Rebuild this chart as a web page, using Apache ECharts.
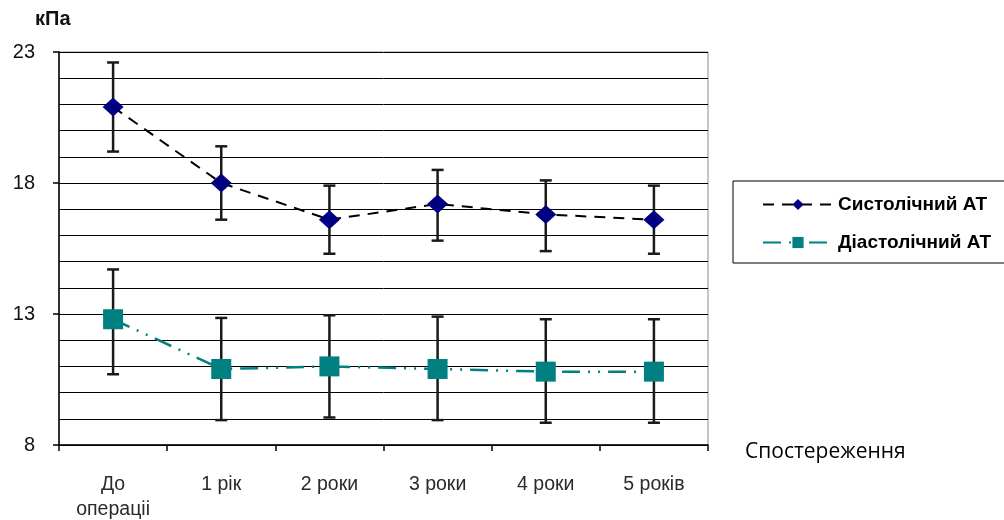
<!DOCTYPE html>
<html><head><meta charset="utf-8">
<script src="https://cdn.jsdelivr.net/npm/echarts@6/dist/echarts.min.js"></script>
<style>html,body{margin:0;padding:0;background:#fff}#c{width:1004px;height:520px}</style>
</head><body><div id="c"></div>
<script>
const categories = ['До\nопераціі', '1 рік', '2 роки', '3 роки', '4 роки', '5 років'];
const systolic = [20.9, 18.0, 16.6, 17.2, 16.8, 16.6];
const systolicLow = [19.2, 16.6, 15.3, 15.8, 15.4, 15.3];
const systolicHigh = [22.6, 19.4, 17.9, 18.5, 18.1, 17.9];
const diastolic = [12.8, 10.9, 11.0, 10.9, 10.8, 10.8];
const diastolicLow = [10.7, 8.95, 9.05, 8.95, 8.85, 8.85];
const diastolicHigh = [14.7, 12.85, 12.95, 12.9, 12.8, 12.8];
const yTicks = [8, 13, 18, 23];

const chart = echarts.init(document.getElementById('c'), null, {renderer: 'canvas'});
function errData(lo, hi) { return categories.map((c, i) => [i, lo[i], hi[i]]); }
function errRender(params, api) {
  const x = api.value(0);
  const lo = api.coord([x, api.value(1)]);
  const hi = api.coord([x, api.value(2)]);
  const w = 6;
  const st = {stroke: '#1a1a1a', lineWidth: 2.5};
  return {type: 'group', children: [
    {type: 'line', shape: {x1: lo[0], y1: lo[1], x2: hi[0], y2: hi[1]}, style: st},
    {type: 'line', shape: {x1: hi[0]-w, y1: hi[1], x2: hi[0]+w, y2: hi[1]}, style: st},
    {type: 'line', shape: {x1: lo[0]-w, y1: lo[1], x2: lo[0]+w, y2: lo[1]}, style: st}
  ]};
}
const font = 'Liberation Sans, Arial, sans-serif';
chart.setOption({
  animation: false,
  backgroundColor: '#fff',
  grid: {left: 59, right: 296, top: 52, bottom: 75, show: true, borderColor: '#888', borderWidth: 1,
    containLabel: false, outerBoundsMode: 'none'},
  xAxis: {
    type: 'category', data: categories, boundaryGap: true,
    axisLine: {lineStyle: {color: '#000', width: 1.5}},
    axisTick: {show: true, length: 6, lineStyle: {color: '#000', width: 1.5}},
    axisLabel: {color: '#2a2a2a', fontFamily: font, fontSize: 19.5, margin: 27, lineHeight: 25}
  },
  yAxis: [{
    type: 'value', min: 8, max: 23, interval: 1,
    axisLine: {show: true, lineStyle: {color: '#000', width: 1.5}},
    axisTick: {show: false},
    axisLabel: {show: false},
    splitLine: {lineStyle: {color: '#000', width: 1}}
  }, {
    type: 'value', min: 8, max: 23, interval: 5, position: 'left',
    axisLine: {show: false},
    axisTick: {show: true, inside: false, length: 6, lineStyle: {color: '#000', width: 1.5}},
    axisLabel: {color: '#111', fontFamily: font, fontSize: 20, margin: 24,
      formatter: v => yTicks.includes(v) ? String(v) : ''},
    splitLine: {show: false}
  }],
  legend: {
    orient: 'vertical', left: 757, top: 190, itemWidth: 70, itemHeight: 14, itemGap: 19,
    textStyle: {fontFamily: font, fontSize: 19, fontWeight: 'bold', color: '#000'},
    data: ['Систолічний АТ', 'Діастолічний АТ']
  },
  graphic: [
    {type: 'rect', shape: {x: 733, y: 181, width: 290, height: 82}, style: {fill: 'none', stroke: '#000', lineWidth: 1}},
    {type: 'text', left: 35, top: 9, style: {text: 'кПа', font: 'bold 20px ' + font, fill: '#111'}},
    {type: 'text', left: 745, top: 442, style: {text: 'Спостереження', font: '21px "Open Sans", sans-serif', fill: '#000'}}
  ],
  series: [
    {type: 'custom', name: 'errS', renderItem: errRender, data: errData(systolicLow, systolicHigh), z: 2, silent: true, encode: {x: 0, y: [1, 2]}},
    {type: 'custom', name: 'errD', renderItem: errRender, data: errData(diastolicLow, diastolicHigh), z: 2, silent: true, encode: {x: 0, y: [1, 2]}},
    {type: 'line', name: 'Систолічний АТ', data: systolic, z: 5,
      symbol: 'diamond', symbolSize: [21, 19],
      itemStyle: {color: '#000080'},
      lineStyle: {color: '#000', width: 2, type: [11, 8]}},
    {type: 'line', name: 'Діастолічний АТ', data: diastolic, z: 5,
      symbol: 'rect', symbolSize: 20,
      itemStyle: {color: '#008080'},
      lineStyle: {color: '#008080', width: 2.5, type: [18, 8, 2, 8, 2, 8]}}
  ]
});
</script>
</body></html>
